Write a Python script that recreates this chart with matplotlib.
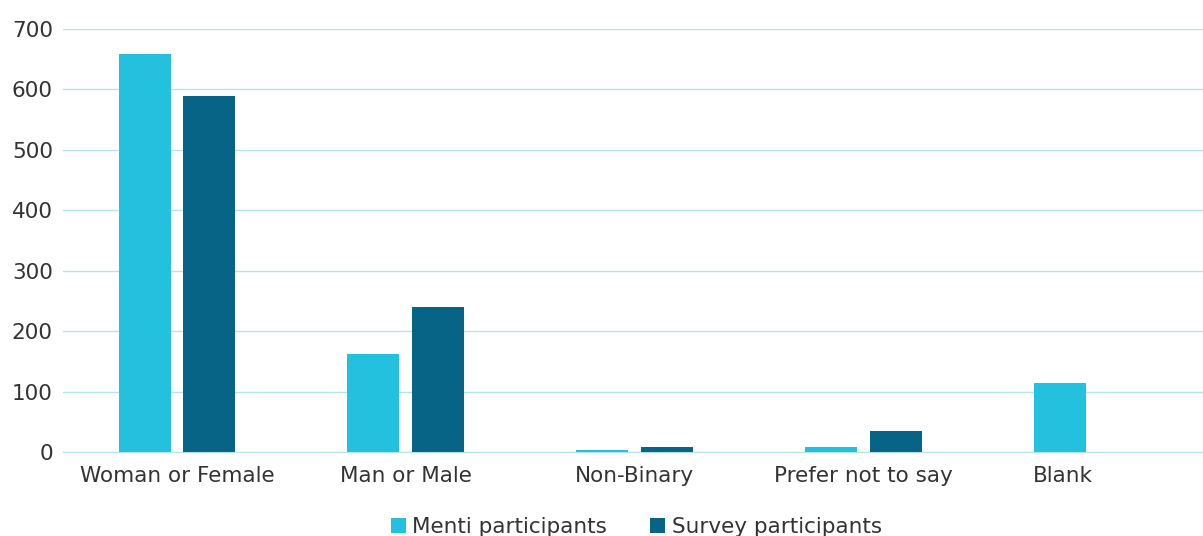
import matplotlib.pyplot as plt
import matplotlib.transforms as mtransforms
import numpy as np

categories = ["Woman or Female", "Man or Male", "Non-Binary", "Prefer not to say", "Blank"]
menti = [658, 162, 3, 9, 115]
survey = [589, 240, 8, 34, 0]
series_names = ["Menti participants", "Survey participants"]
yticks = [0, 100, 200, 300, 400, 500, 600, 700]

plt.rcParams["font.family"] = ["DejaVu Sans"]

fig = plt.figure(figsize=(12.03, 5.36), dpi=100)
ax = fig.add_axes([0.052, 0.1567, 0.9508, 0.7892])

x = np.arange(len(categories))
w = 0.227
off = 0.1415
ax.bar(x - off, menti, w, color="#23C1DE", label=series_names[0], zorder=3)
ax.bar(x + off, survey, w, color="#086487", label=series_names[1], zorder=3)

ax.set_xlim(-0.5, len(categories) - 0.5)
ax.set_ylim(0, 700)
ax.set_yticks(yticks)
ax.set_xticks(x)
ax.set_xticklabels(categories)
ax.grid(axis="y", color="#B8E3EC", linewidth=1, zorder=0)
for s in ["top", "right", "left"]:
    ax.spines[s].set_visible(False)
ax.spines["bottom"].set_color("#B8E3EC")
ax.tick_params(length=0, labelsize=15.5, colors="#333333")
ax.tick_params(axis="x", pad=10)
ax.tick_params(axis="y", pad=7)

# last label sits a little left of its slot in the original
lbl = ax.get_xticklabels()[-1]
lbl.set_transform(lbl.get_transform() + mtransforms.ScaledTranslation(-0.29, 0, fig.dpi_scale_trans))

fig.legend(loc="lower center", bbox_to_anchor=(0.529, -0.038), ncol=2, frameon=False,
           fontsize=15.5, handlelength=0.7, handleheight=0.7, handletextpad=0.3,
           columnspacing=2.0, labelcolor="#333333")

fig.savefig("out.png", dpi=100)
